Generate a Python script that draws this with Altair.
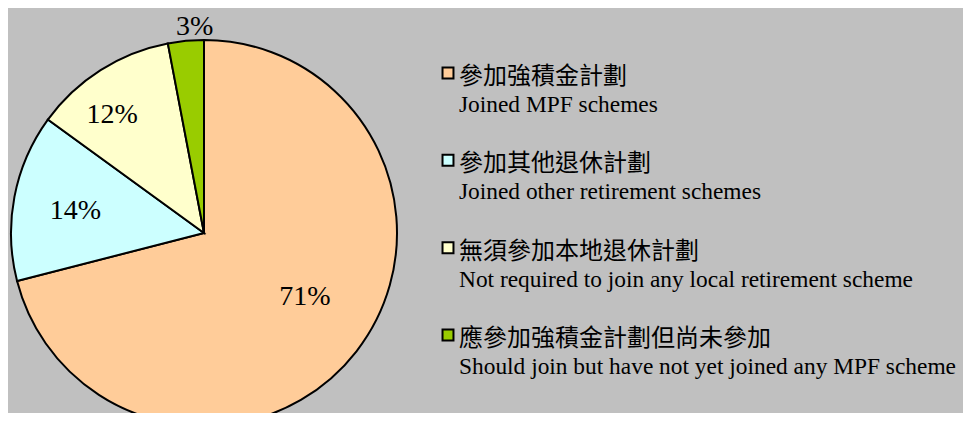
import altair as alt
import pandas as pd

# ---- data ----
categories = ["mpf", "other", "notreq", "notyet"]
labels_zh = ["參加強積金計劃", "參加其他退休計劃", "無須參加本地退休計劃", "應參加強積金計劃但尚未參加"]
labels_en = [
    "Joined MPF schemes",
    "Joined other retirement schemes",
    "Not required to join any local retirement scheme",
    "Should join but have not yet joined any MPF scheme",
]
values = [71, 14, 12, 3]

# ---- style ----
colors = ["#FFCC99", "#CCFFFF", "#FFFFCC", "#99CC00"]
BG = "#C0C0C0"
FONT = "Liberation Serif, Times New Roman, Noto Sans CJK TC"
CX, CY, R = 196, 225, 193
# per-label placement tweaks: (radius, dx, dy)
label_style = {
    "mpf": (120, 6, -10),
    "other": (130, -1, 2),
    "notreq": (149, -12, 8),
    "notyet": (205, 10, -2),
}

df = pd.DataFrame({
    "cat": categories,
    "zh": labels_zh,
    "en": labels_en,
    "value": values,
    "pct": [f"{v}%" for v in values],
    "order": list(range(len(values))),
})

base = alt.Chart(df)
color_enc = alt.Color("cat:N", scale=alt.Scale(domain=categories, range=colors), legend=None)
theta_enc = alt.Theta("value:Q", stack=True)

pie = base.mark_arc(outerRadius=R, stroke="black", strokeWidth=2).encode(
    theta=theta_enc,
    order=alt.Order("order:Q"),
    color=color_enc,
    x=alt.value(CX),
    y=alt.value(CY),
)

layers = [pie]
for cat, (r, dx, dy) in label_style.items():
    layers.append(
        base.mark_text(radius=r, dx=dx, dy=dy, font=FONT, fontSize=28, color="black").encode(
            theta=theta_enc,
            order=alt.Order("order:Q"),
            detail="cat:N",
            text=alt.condition(alt.datum.cat == cat, "pct:N", alt.value("")),
            x=alt.value(CX),
            y=alt.value(CY),
        )
    )

leg_y = alt.Y("cat:N", sort=categories,
              scale=alt.Scale(domain=categories, range=[65, 327], padding=0), axis=None)

squares = base.mark_square(size=120, stroke="black", strokeWidth=2, opacity=1).encode(
    x=alt.value(440), y=leg_y, color=color_enc
)
zh_text = base.mark_text(align="left", baseline="alphabetic", dy=11, font=FONT,
                         fontSize=24, color="black").encode(
    x=alt.value(451), y=leg_y, text="zh:N"
)
en_text = base.mark_text(align="left", baseline="alphabetic", dy=39, font=FONT,
                         fontSize=23.4, color="black").encode(
    x=alt.value(451), y=leg_y, text="en:N"
)
layers += [squares, zh_text, en_text]

chart = alt.layer(*layers).properties(
    width=955,
    height=405,
    autosize="none",
    padding=0,
    background=BG,
).configure_view(stroke=None)

chart.save("out.html", embed_options={"renderer": "svg", "actions": False})
